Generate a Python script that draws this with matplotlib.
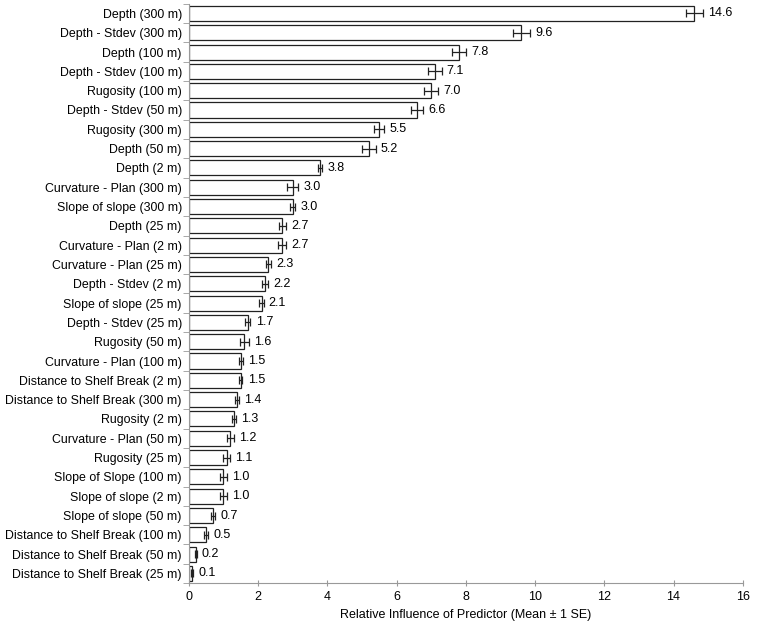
import matplotlib
matplotlib.use("Agg")
import matplotlib.pyplot as plt
import numpy as np

plt.rcParams['font.family'] = ['Liberation Sans', 'DejaVu Sans']

# predictors, top to bottom
labels = ["Depth (300 m)", "Depth - Stdev (300 m)", "Depth (100 m)", "Depth - Stdev (100 m)",
          "Rugosity (100 m)", "Depth - Stdev (50 m)", "Rugosity (300 m)", "Depth (50 m)",
          "Depth (2 m)", "Curvature - Plan (300 m)", "Slope of slope (300 m)", "Depth (25 m)",
          "Curvature - Plan (2 m)", "Curvature - Plan (25 m)", "Depth - Stdev (2 m)",
          "Slope of slope (25 m)", "Depth - Stdev (25 m)", "Rugosity (50 m)",
          "Curvature - Plan (100 m)", "Distance to Shelf Break (2 m)",
          "Distance to Shelf Break (300 m)", "Rugosity (2 m)", "Curvature - Plan (50 m)",
          "Rugosity (25 m)", "Slope of Slope (100 m)", "Slope of slope (2 m)",
          "Slope of slope (50 m)", "Distance to Shelf Break (100 m)",
          "Distance to Shelf Break (50 m)", "Distance to Shelf Break (25 m)"]
means = [14.6, 9.6, 7.8, 7.1, 7.0, 6.6, 5.5, 5.2, 3.8, 3.0, 3.0, 2.7, 2.7, 2.3, 2.2,
         2.1, 1.7, 1.6, 1.5, 1.5, 1.4, 1.3, 1.2, 1.1, 1.0, 1.0, 0.7, 0.5, 0.2, 0.1]
se = [0.25, 0.25, 0.2, 0.2, 0.2, 0.17, 0.15, 0.2, 0.06, 0.15, 0.08, 0.1, 0.12, 0.08, 0.1,
      0.06, 0.08, 0.13, 0.06, 0.05, 0.06, 0.06, 0.1, 0.1, 0.1, 0.1, 0.06, 0.05, 0.03, 0.03]

fig = plt.figure(figsize=(7.77, 6.27), dpi=100)
ax = fig.add_axes([0.243, 0.070, 0.713, 0.924])

y = np.arange(len(labels))
ax.barh(y, means, height=0.78, color='white', edgecolor='#222222', linewidth=0.9,
        xerr=se, error_kw=dict(ecolor='#222222', elinewidth=0.9, capsize=3, capthick=0.9))

for yi, m, s in zip(y, means, se):
    ax.text(m + s + 0.15, yi, "%.1f" % m, va='center', ha='left', fontsize=9)

ax.set_yticks(y)
ax.set_yticklabels(labels, fontsize=8.9)
# tick marks sit between categories
ax.set_yticks(np.arange(len(labels) + 1) - 0.5, minor=True)
ax.set_ylim(len(labels) - 0.5, -0.5)
ax.set_xlim(0, 16)
ax.set_xticks(np.arange(0, 17, 2))
ax.tick_params(axis='x', labelsize=9, color='#999999', length=5, direction='inout')
ax.tick_params(axis='y', which='major', length=0, pad=5)
ax.tick_params(axis='y', which='minor', color='#999999', length=4)
ax.set_xlabel("Relative Influence of Predictor (Mean \u00b1 1 SE)", fontsize=9)

for sp in ['top', 'right']:
    ax.spines[sp].set_visible(False)
for sp in ['left', 'bottom']:
    ax.spines[sp].set_color('#999999')

fig.savefig("out.png", dpi=100)
